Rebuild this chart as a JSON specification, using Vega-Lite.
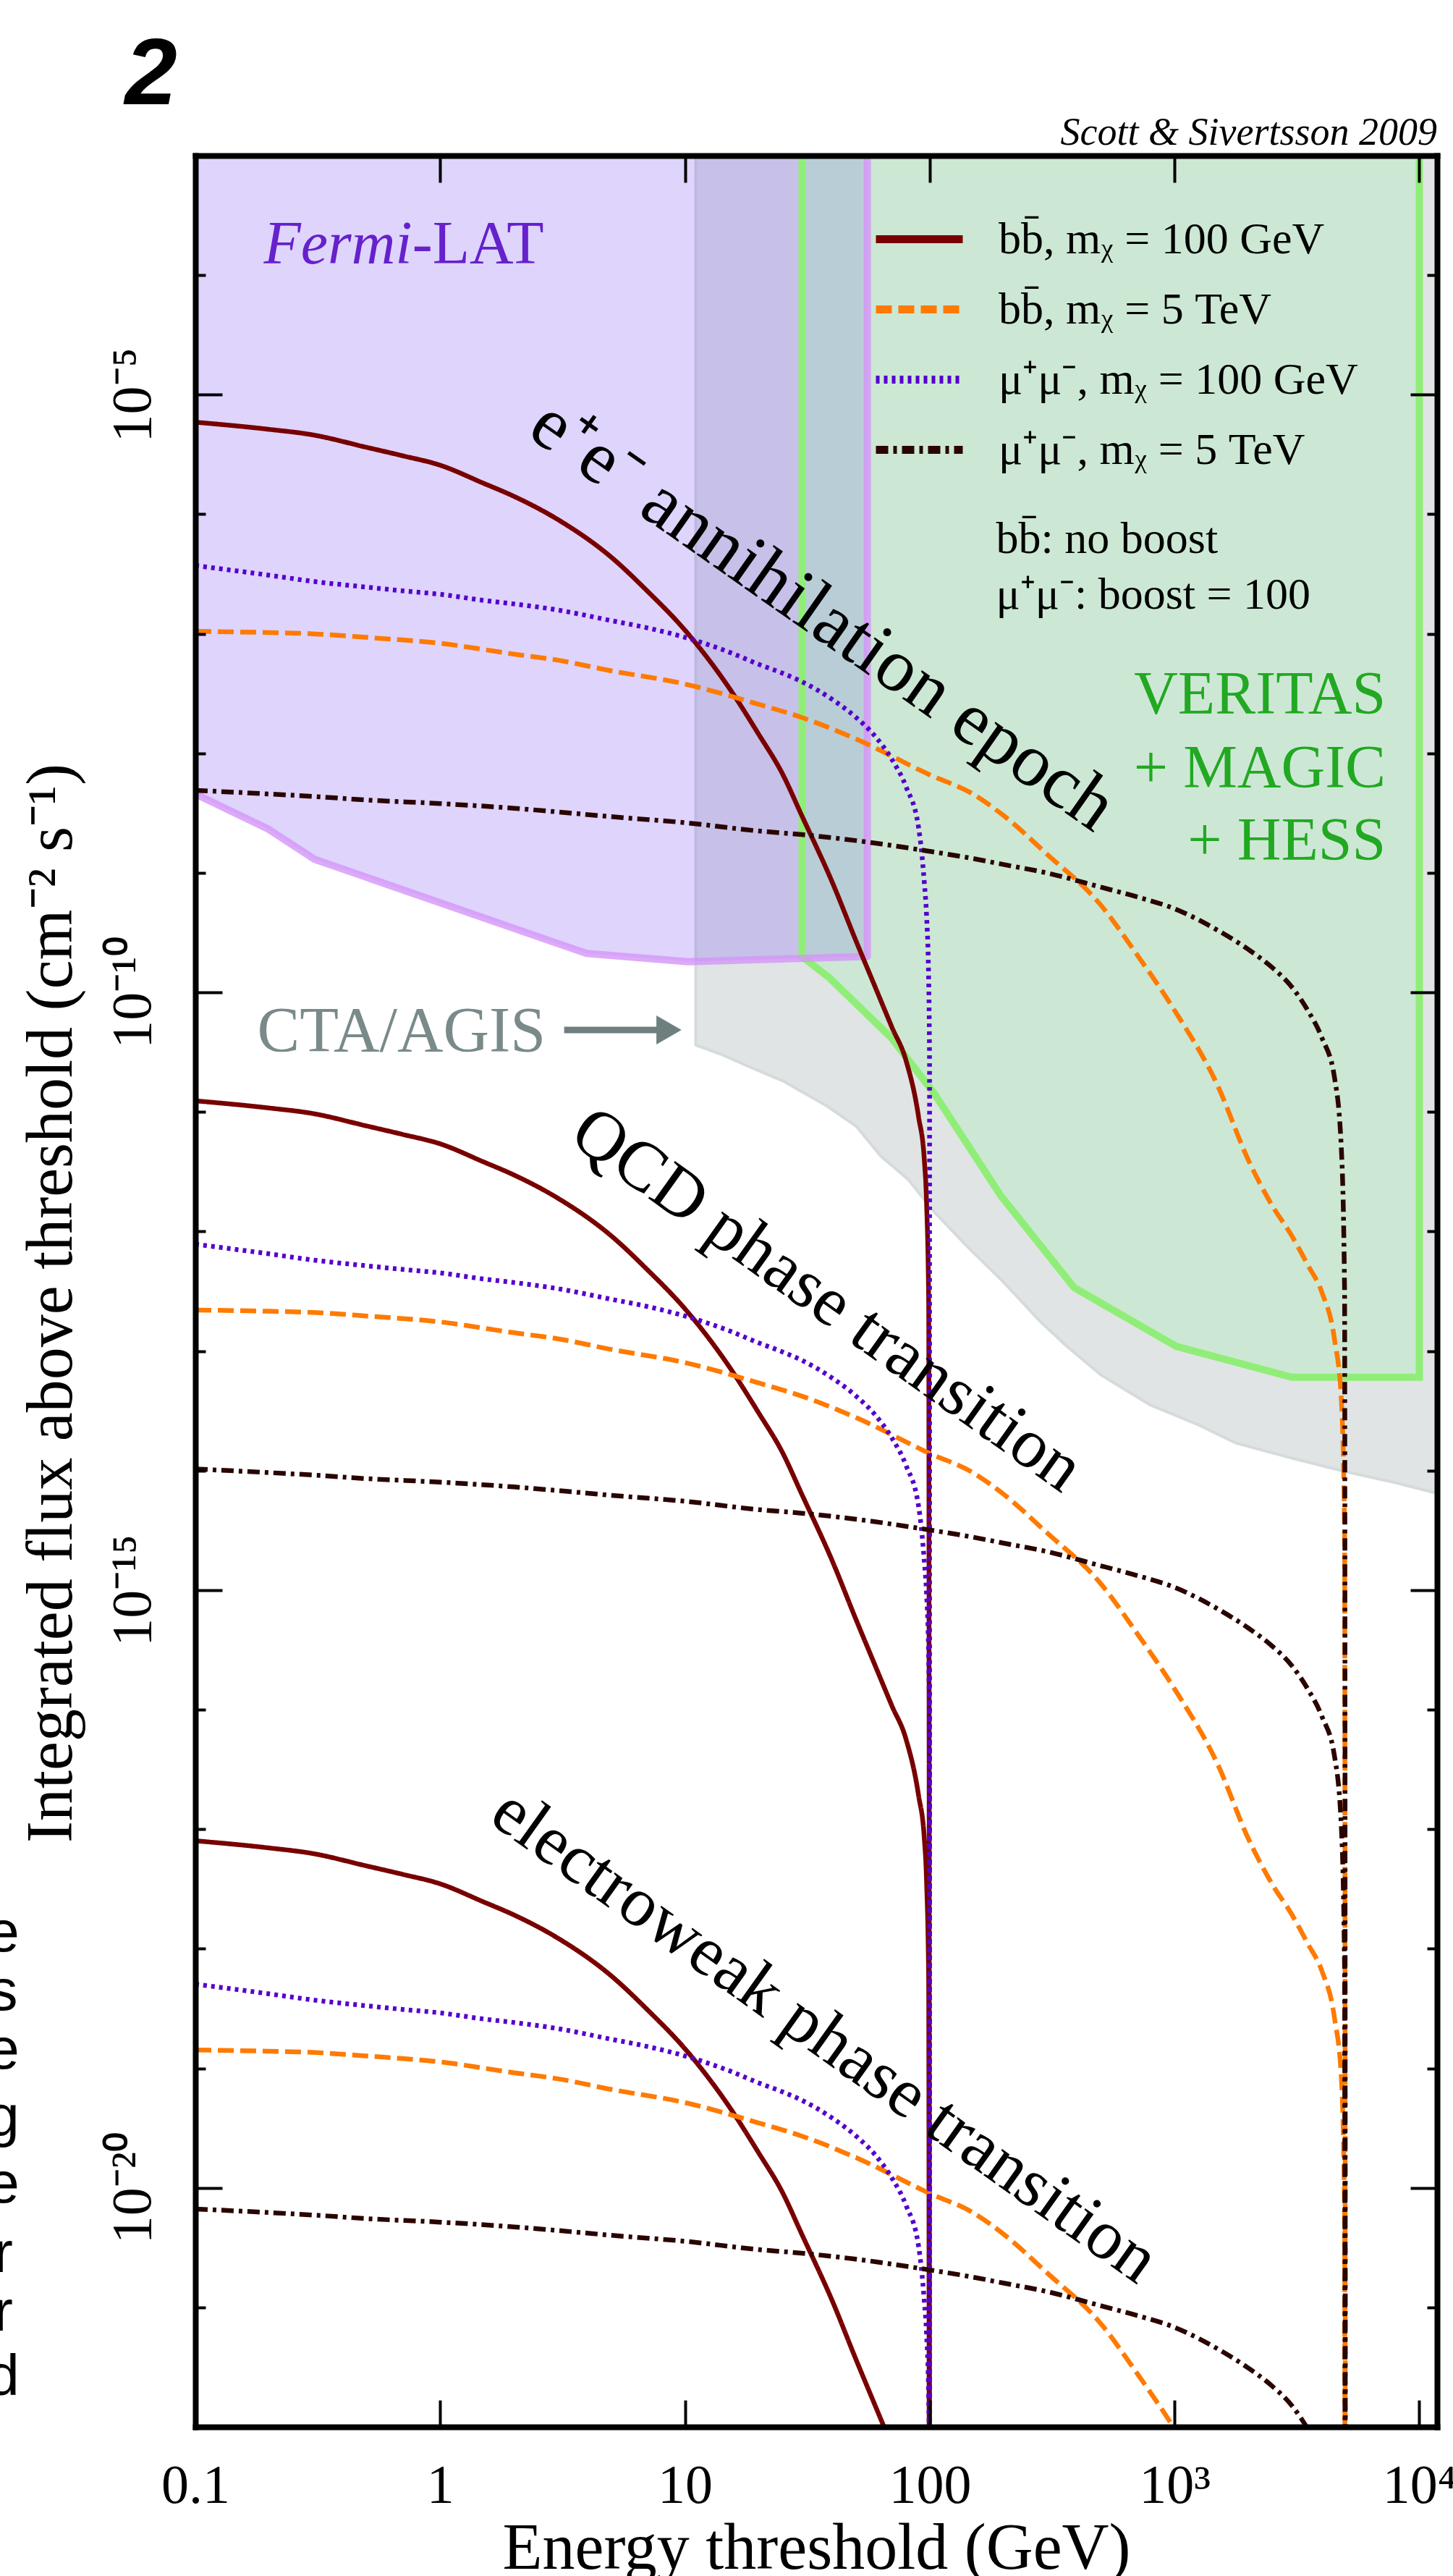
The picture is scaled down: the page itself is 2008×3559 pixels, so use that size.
{
  "$schema": "https://vega.github.io/schema/vega-lite/v6.json",
  "width": 1716,
  "height": 3138,
  "autosize": {"type": "none"},
  "padding": {"left": 270, "top": 215, "right": 22, "bottom": 206},
  "background": "white",
  "config": {
    "view": {"stroke": null},
    "font": "Liberation Serif",
    "axis": {"labelFont": "Liberation Serif", "titleFont": "Liberation Serif", "titleFontWeight": "normal", "labelColor": "black", "titleColor": "black", "grid": false}
  },
  "resolve": {"axis": {"x": "independent", "y": "independent"}},
  "datasets": {
    "curves": [
      {"s":"A","E":0.1,"g1":5.89e-6,"g2":1.239e-11,"g3":8.0e-18},
      {"s":"A","E":0.2,"g1":5.13e-6,"g2":1.079e-11,"g3":6.97e-18},
      {"s":"A","E":0.3,"g1":4.62e-6,"g2":9.72e-12,"g3":6.27e-18},
      {"s":"A","E":0.5,"g1":3.63e-6,"g2":7.64e-12,"g3":4.93e-18},
      {"s":"A","E":0.7,"g1":3.09e-6,"g2":6.5e-12,"g3":4.2e-18},
      {"s":"A","E":1,"g1":2.57e-6,"g2":5.41e-12,"g3":3.49e-18},
      {"s":"A","E":1.5,"g1":1.82e-6,"g2":3.83e-12,"g3":2.47e-18},
      {"s":"A","E":2,"g1":1.413e-6,"g2":2.973e-12,"g3":1.919e-18},
      {"s":"A","E":3,"g1":9.12e-7,"g2":1.919e-12,"g3":1.239e-18},
      {"s":"A","E":5,"g1":4.37e-7,"g2":9.19e-13,"g3":5.93e-19},
      {"s":"A","E":7,"g1":2.29e-7,"g2":4.818e-13,"g3":3.11e-19},
      {"s":"A","E":10,"g1":1.072e-7,"g2":2.255e-13,"g3":1.456e-19},
      {"s":"A","E":15,"g1":3.63e-8,"g2":7.64e-14,"g3":4.93e-20},
      {"s":"A","E":20,"g1":1.445e-8,"g2":3.04e-14,"g3":1.962e-20},
      {"s":"A","E":25,"g1":6.76e-9,"g2":1.422e-14,"g3":9.18e-21},
      {"s":"A","E":30,"g1":3.02e-9,"g2":6.354e-15,"g3":4.1e-21},
      {"s":"A","E":40,"g1":8.32e-10,"g2":1.751e-15,"g3":1.13e-21},
      {"s":"A","E":50,"g1":2.69e-10,"g2":5.66e-16,"g3":3.653e-22},
      {"s":"A","E":60,"g1":1.096e-10,"g2":2.306e-16,"g3":1.488e-22},
      {"s":"A","E":70,"g1":5.13e-11,"g2":1.079e-16,"g3":6.97e-23},
      {"s":"A","E":80,"g1":2.69e-11,"g2":5.66e-17,"g3":3.65e-23},
      {"s":"A","E":90,"g1":9.12e-12,"g2":1.919e-17,"g3":1.24e-23},
      {"s":"A","E":95,"g1":3.98e-12,"g2":8.374e-18,"g3":5.4e-24},
      {"s":"A","E":97,"g1":1.778e-12,"g2":3.741e-18,"g3":2.41e-24},
      {"s":"A","E":99,"g1":2.51e-13,"g2":5.281e-19,"g3":3.4e-25},
      {"s":"A","E":100,"g1":1e-30,"g2":1e-36,"g3":1e-42},
      {"s":"B","E":0.1,"g1":1.047e-7,"g2":2.203e-13,"g3":1.422e-19},
      {"s":"B","E":0.2,"g1":1.023e-7,"g2":2.152e-13,"g3":1.389e-19},
      {"s":"B","E":0.3,"g1":1.0e-7,"g2":2.104e-13,"g3":1.358e-19},
      {"s":"B","E":0.5,"g1":9.33e-8,"g2":1.963e-13,"g3":1.267e-19},
      {"s":"B","E":1,"g1":8.32e-8,"g2":1.751e-13,"g3":1.13e-19},
      {"s":"B","E":2,"g1":6.76e-8,"g2":1.422e-13,"g3":9.18e-20},
      {"s":"B","E":3,"g1":6.03e-8,"g2":1.269e-13,"g3":8.189e-20},
      {"s":"B","E":5,"g1":4.9e-8,"g2":1.031e-13,"g3":6.654e-20},
      {"s":"B","E":10,"g1":3.8e-8,"g2":7.995e-14,"g3":5.16e-20},
      {"s":"B","E":20,"g1":2.57e-8,"g2":5.407e-14,"g3":3.49e-20},
      {"s":"B","E":30,"g1":1.995e-8,"g2":4.197e-14,"g3":2.709e-20},
      {"s":"B","E":50,"g1":1.318e-8,"g2":2.773e-14,"g3":1.79e-20},
      {"s":"B","E":100,"g1":6.61e-9,"g2":1.391e-14,"g3":8.976e-21},
      {"s":"B","E":150,"g1":4.57e-9,"g2":9.615e-15,"g3":6.206e-21},
      {"s":"B","E":200,"g1":3.02e-9,"g2":6.354e-15,"g3":4.101e-21},
      {"s":"B","E":300,"g1":1.445e-9,"g2":3.04e-15,"g3":1.962e-21},
      {"s":"B","E":500,"g1":5.37e-10,"g2":1.13e-15,"g3":7.292e-22},
      {"s":"B","E":700,"g1":2.09e-10,"g2":4.397e-16,"g3":2.838e-22},
      {"s":"B","E":1000,"g1":7.08e-11,"g2":1.49e-16,"g3":9.615e-23},
      {"s":"B","E":1500,"g1":1.66e-11,"g2":3.493e-17,"g3":2.254e-23},
      {"s":"B","E":2000,"g1":3.98e-12,"g2":8.374e-18,"g3":5.4e-24},
      {"s":"B","E":2500,"g1":1.66e-12,"g2":3.493e-18,"g3":2.25e-24},
      {"s":"B","E":3000,"g1":9.33e-13,"g2":1.963e-18,"g3":1.27e-24},
      {"s":"B","E":3500,"g1":5.25e-13,"g2":1.105e-18,"g3":7.1e-25},
      {"s":"B","E":4000,"g1":3.09e-13,"g2":6.501e-19,"g3":4.2e-25},
      {"s":"B","E":4500,"g1":1.259e-13,"g2":2.649e-19,"g3":1.7e-25},
      {"s":"B","E":4800,"g1":3.98e-14,"g2":8.374e-20,"g3":5.4e-26},
      {"s":"B","E":4950,"g1":3.16e-15,"g2":6.649e-21,"g3":4.3e-27},
      {"s":"B","E":5000,"g1":1e-30,"g2":1e-36,"g3":1e-42},
      {"s":"C","E":0.1,"g1":3.72e-7,"g2":7.827e-13,"g3":5.052e-19},
      {"s":"C","E":0.2,"g1":3.09e-7,"g2":6.501e-13,"g3":4.196e-19},
      {"s":"C","E":0.3,"g1":2.75e-7,"g2":5.786e-13,"g3":3.735e-19},
      {"s":"C","E":0.5,"g1":2.455e-7,"g2":5.165e-13,"g3":3.334e-19},
      {"s":"C","E":0.7,"g1":2.29e-7,"g2":4.818e-13,"g3":3.11e-19},
      {"s":"C","E":1,"g1":2.14e-7,"g2":4.503e-13,"g3":2.906e-19},
      {"s":"C","E":1.5,"g1":1.905e-7,"g2":4.008e-13,"g3":2.587e-19},
      {"s":"C","E":2,"g1":1.778e-7,"g2":3.741e-13,"g3":2.415e-19},
      {"s":"C","E":3,"g1":1.585e-7,"g2":3.335e-13,"g3":2.152e-19},
      {"s":"C","E":5,"g1":1.288e-7,"g2":2.71e-13,"g3":1.749e-19},
      {"s":"C","E":7,"g1":1.122e-7,"g2":2.361e-13,"g3":1.524e-19},
      {"s":"C","E":10,"g1":9.33e-8,"g2":1.963e-13,"g3":1.267e-19},
      {"s":"C","E":15,"g1":7.08e-8,"g2":1.49e-13,"g3":9.615e-20},
      {"s":"C","E":20,"g1":5.56e-8,"g2":1.17e-13,"g3":7.55e-20},
      {"s":"C","E":25,"g1":4.68e-8,"g2":9.847e-14,"g3":6.355e-20},
      {"s":"C","E":30,"g1":3.98e-8,"g2":8.374e-14,"g3":5.405e-20},
      {"s":"C","E":40,"g1":2.82e-8,"g2":5.933e-14,"g3":3.83e-20},
      {"s":"C","E":50,"g1":1.995e-8,"g2":4.197e-14,"g3":2.709e-20},
      {"s":"C","E":60,"g1":1.38e-8,"g2":2.904e-14,"g3":1.874e-20},
      {"s":"C","E":70,"g1":8.91e-9,"g2":1.875e-14,"g3":1.21e-20},
      {"s":"C","E":80,"g1":5.25e-9,"g2":1.105e-14,"g3":7.13e-21},
      {"s":"C","E":90,"g1":2.4e-9,"g2":5.05e-15,"g3":3.259e-21},
      {"s":"C","E":95,"g1":8.32e-10,"g2":1.751e-15,"g3":1.13e-21},
      {"s":"C","E":97,"g1":4.47e-10,"g2":9.405e-16,"g3":6.07e-22},
      {"s":"C","E":99,"g1":1.259e-10,"g2":2.649e-16,"g3":1.71e-22},
      {"s":"C","E":99.8,"g1":2.51e-11,"g2":5.281e-17,"g3":3.409e-23},
      {"s":"C","E":100,"g1":1e-30,"g2":1e-36,"g3":1e-42},
      {"s":"D","E":0.1,"g1":4.9e-9,"g2":1.031e-14,"g3":6.654e-21},
      {"s":"D","E":0.2,"g1":4.57e-9,"g2":9.615e-15,"g3":6.206e-21},
      {"s":"D","E":0.3,"g1":4.365e-9,"g2":9.184e-15,"g3":5.928e-21},
      {"s":"D","E":0.5,"g1":4.07e-9,"g2":8.563e-15,"g3":5.527e-21},
      {"s":"D","E":1,"g1":3.8e-9,"g2":7.995e-15,"g3":5.16e-21},
      {"s":"D","E":2,"g1":3.47e-9,"g2":7.301e-15,"g3":4.712e-21},
      {"s":"D","E":3,"g1":3.24e-9,"g2":6.817e-15,"g3":4.4e-21},
      {"s":"D","E":5,"g1":2.95e-9,"g2":6.207e-15,"g3":4.006e-21},
      {"s":"D","E":10,"g1":2.63e-9,"g2":5.534e-15,"g3":3.572e-21},
      {"s":"D","E":20,"g1":2.24e-9,"g2":4.713e-15,"g3":3.042e-21},
      {"s":"D","E":30,"g1":2.09e-9,"g2":4.397e-15,"g3":2.838e-21},
      {"s":"D","E":50,"g1":1.862e-9,"g2":3.918e-15,"g3":2.529e-21},
      {"s":"D","E":100,"g1":1.514e-9,"g2":3.185e-15,"g3":2.056e-21},
      {"s":"D","E":150,"g1":1.318e-9,"g2":2.773e-15,"g3":1.79e-21},
      {"s":"D","E":200,"g1":1.175e-9,"g2":2.472e-15,"g3":1.596e-21},
      {"s":"D","E":300,"g1":1.0e-9,"g2":2.104e-15,"g3":1.358e-21},
      {"s":"D","E":500,"g1":7.59e-10,"g2":1.597e-15,"g3":1.031e-21},
      {"s":"D","E":700,"g1":6.31e-10,"g2":1.328e-15,"g3":8.569e-22},
      {"s":"D","E":1000,"g1":5.01e-10,"g2":1.054e-15,"g3":6.804e-22},
      {"s":"D","E":1500,"g1":3.31e-10,"g2":6.964e-16,"g3":4.495e-22},
      {"s":"D","E":2000,"g1":2.29e-10,"g2":4.818e-16,"g3":3.11e-22},
      {"s":"D","E":2500,"g1":1.622e-10,"g2":3.413e-16,"g3":2.203e-22},
      {"s":"D","E":3000,"g1":1.122e-10,"g2":2.361e-16,"g3":1.524e-22},
      {"s":"D","E":3500,"g1":7.08e-11,"g2":1.49e-16,"g3":9.615e-23},
      {"s":"D","E":4000,"g1":4.17e-11,"g2":8.774e-17,"g3":5.663e-23},
      {"s":"D","E":4500,"g1":1.95e-11,"g2":4.103e-17,"g3":2.648e-23},
      {"s":"D","E":4800,"g1":5.01e-12,"g2":1.054e-17,"g3":6.804e-24},
      {"s":"D","E":4950,"g1":3.16e-13,"g2":6.649e-19,"g3":4.29e-25},
      {"s":"D","E":5000,"g1":1e-30,"g2":1e-36,"g3":1e-42}
    ]
  },
  "encoding": {
    "x": {"field": "E", "type": "quantitative", "scale": {"type": "log", "domain": [0.1, 11816], "nice": false}, "axis": null},
    "y": {"field": "F", "type": "quantitative", "scale": {"type": "log", "domain": [1e-22, 0.001], "nice": false}, "axis": null}
  },
  "layer": [
    {
      "data": {"values": [
        {"E":11.07,"F":3.63e-11},{"E":14.13,"F":3.02e-11},{"E":17.78,"F":2.455e-11},{"E":25.1,"F":1.82e-11},
        {"E":38.0,"F":1.122e-11},{"E":50.1,"F":7.59e-12},{"E":63.1,"F":4.27e-12},{"E":81.3,"F":2.75e-12},
        {"E":104.7,"F":1.445e-12},{"E":141.3,"F":7.59e-13},{"E":199.5,"F":3.8e-13},{"E":281.8,"F":1.778e-13},
        {"E":363,"F":1.096e-13},{"E":501,"F":6.31e-14},{"E":794,"F":3.55e-14},{"E":1259,"F":2.4e-14},
        {"E":1778,"F":1.7e-14},{"E":2818,"F":1.318e-14},{"E":5012,"F":9.77e-15},{"E":7943,"F":7.94e-15},{"E":11816,"F":6.46e-15}
      ]},
      "mark": {"type": "area", "color": "#e0e4e4", "stroke": "#d5dbdb", "strokeWidth": 4, "clip": true},
      "encoding": {
        "x": {"field": "E", "type": "quantitative", "scale": {"type": "log", "domain": [0.1, 11816], "nice": false},
              "axis": {"orient": "top", "values": [0.1, 1, 10, 100, 1000, 10000], "labels": false, "tickSize": -37, "tickWidth": 4, "tickColor": "black", "domain": true, "domainWidth": 8, "domainColor": "black", "domainCap": "square", "title": null, "zindex": 1}},
        "y": {"field": "F", "type": "quantitative", "scale": {"type": "log", "domain": [1e-22, 0.001], "nice": false},
              "axis": {"orient": "right", "values": [1e-4,1e-5,1e-6,1e-7,1e-8,1e-9,1e-10,1e-11,1e-12,1e-13,1e-14,1e-15,1e-16,1e-17,1e-18,1e-19,1e-20,1e-21], "labels": false,
                       "tickSize": {"condition": {"test": "abs(round(log(datum.value)/LN10)) % 5 == 0", "value": -37}, "value": -14},
                       "tickWidth": 4, "tickColor": "black", "domain": true, "domainWidth": 8, "domainColor": "black", "domainCap": "square", "title": null, "zindex": 1}},
        "y2": {"datum": 0.001}
      }
    },
    {
      "data": {"values": [
        {"E":0.1,"F":4.57e-9},{"E":0.198,"F":2.33e-9},{"E":0.307,"F":1.297e-9},{"E":3.96,"F":2.118e-10},{"E":10.3,"F":1.807e-10},{"E":55.6,"F":1.995e-10}
      ]},
      "mark": {"type": "area", "color": "#7b53f3", "opacity": 0.25, "clip": true},
      "encoding": {"y2": {"datum": 0.001}}
    },
    {
      "data": {"values": [
        {"E":30.1,"F":1.995e-10},{"E":39.0,"F":1.318e-10},{"E":69.7,"F":4.17e-11},{"E":104.7,"F":1.413e-11},{"E":195,"F":1.995e-12},
        {"E":389,"F":3.39e-13},{"E":1016,"F":1.096e-13},{"E":3020,"F":6.03e-14},{"E":10000,"F":6.03e-14}
      ]},
      "mark": {"type": "area", "color": "#90f4a4", "opacity": 0.25, "clip": true},
      "encoding": {"y2": {"datum": 0.001}}
    },
    {
      "data": {"values": [
        {"k":0,"E":30.1,"F":0.001},{"k":1,"E":30.1,"F":1.995e-10},{"k":2,"E":39.0,"F":1.318e-10},{"k":3,"E":69.7,"F":4.17e-11},{"k":4,"E":104.7,"F":1.413e-11},
        {"k":5,"E":195,"F":1.995e-12},{"k":6,"E":389,"F":3.39e-13},{"k":7,"E":1016,"F":1.096e-13},{"k":8,"E":3020,"F":6.03e-14},{"k":9,"E":10000,"F":6.03e-14},{"k":10,"E":10000,"F":0.001}
      ]},
      "mark": {"type": "line", "color": "#90ee78", "strokeWidth": 10, "strokeJoin": "miter", "clip": true},
      "encoding": {"order": {"field": "k", "type": "quantitative"}}
    },
    {
      "data": {"values": [
        {"k":0,"E":0.1,"F":4.57e-9},{"k":1,"E":0.198,"F":2.33e-9},{"k":2,"E":0.307,"F":1.297e-9},{"k":3,"E":3.96,"F":2.118e-10},
        {"k":4,"E":10.3,"F":1.807e-10},{"k":5,"E":55.6,"F":1.995e-10},{"k":6,"E":55.6,"F":0.001}
      ]},
      "mark": {"type": "line", "color": "#d595f7", "opacity": 0.8, "strokeWidth": 10, "strokeJoin": "round", "clip": true},
      "encoding": {"order": {"field": "k", "type": "quantitative"}}
    },
    {
      "data": {"name": "curves"},
      "transform": [{"fold": ["g1", "g2", "g3"], "as": ["grp", "F"]}],
      "mark": {"type": "line", "strokeWidth": 6.5, "interpolate": "monotone", "clip": true},
      "encoding": {
        "x": {"field": "E", "type": "quantitative", "scale": {"type": "log", "domain": [0.1, 11816], "nice": false},
              "axis": {"orient": "bottom", "values": [0.1, 1, 10, 100, 1000, 10000],
                       "labelExpr": "datum.value >= 10000 ? '10⁴' : datum.value >= 1000 ? '10³' : datum.value < 1 ? '0.1' : format(datum.value, 'd')",
                       "tickSize": -37, "tickWidth": 4, "tickColor": "black",
                       "labelPadding": 141, "labelBaseline": "alphabetic", "labelFontSize": 76, "labelFlush": false, "labelOverlap": false, "labelBound": false, "labelLimit": 0,
                       "domain": true, "domainWidth": 8, "domainColor": "black", "domainCap": "square",
                       "title": "Energy threshold (GeV)", "titleFontSize": 90, "titleX": 858, "titleY": 195, "titleBaseline": "alphabetic", "titleAlign": "center", "zindex": 1}},
        "y": {"field": "F", "type": "quantitative", "scale": {"type": "log", "domain": [1e-22, 0.001], "nice": false},
              "axis": {"orient": "left", "values": [1e-4,1e-5,1e-6,1e-7,1e-8,1e-9,1e-10,1e-11,1e-12,1e-13,1e-14,1e-15,1e-16,1e-17,1e-18,1e-19,1e-20,1e-21],
                       "labelExpr": "datum.value == 1e-5 ? '10⁻⁵' : datum.value == 1e-10 ? '10⁻¹⁰' : datum.value == 1e-15 ? '10⁻¹⁵' : datum.value == 1e-20 ? '10⁻²⁰' : ''",
                       "tickSize": {"condition": {"test": "abs(round(log(datum.value)/LN10)) % 5 == 0", "value": -37}, "value": -14},
                       "tickWidth": 4, "tickColor": "black",
                       "labelPadding": 100, "labelAngle": 270, "labelAlign": "center", "labelBaseline": "alphabetic", "labelFontSize": 78, "labelFlush": false, "labelOverlap": false, "labelBound": false, "labelLimit": 0,
                       "domain": true, "domainWidth": 8, "domainColor": "black", "domainCap": "square",
                       "title": "Integrated flux above threshold (cm⁻² s⁻¹)", "titleFontSize": 90, "titleAngle": 270, "titleX": -172, "titleY": 1585, "titleBaseline": "alphabetic", "titleAlign": "center", "zindex": 1}},
        "color": {"field": "s", "type": "nominal",
                  "scale": {"domain": ["A", "B", "C", "D"], "range": ["#780000", "#ff7a00", "#5500cc", "#2a0500"]},
                  "legend": {"title": null, "orient": "none", "legendX": 935, "legendY": 50, "symbolType": "stroke", "symbolSize": 14400, "symbolStrokeWidth": 11, "labelFont": "Liberation Serif", "labelFontSize": 62, "labelColor": "black", "labelOffset": 44, "rowPadding": -37, "padding": 0, "labelLimit": 1000,
                             "labelExpr": "datum.label == 'A' ? 'bb̄, mᵪ = 100 GeV' : datum.label == 'B' ? 'bb̄, mᵪ = 5 TeV' : datum.label == 'C' ? 'μ⁺μ⁻, mᵪ = 100 GeV' : 'μ⁺μ⁻, mᵪ = 5 TeV'"}},
        "strokeDash": {"field": "s", "type": "nominal",
                  "scale": {"domain": ["A", "B", "C", "D"], "range": [[1, 0], [22, 9], [5, 6], [17, 7, 5, 7]]},
                  "legend": {"title": null, "orient": "none", "legendX": 935, "legendY": 50, "symbolType": "stroke", "symbolSize": 14400, "symbolStrokeWidth": 11, "labelFont": "Liberation Serif", "labelFontSize": 62, "labelColor": "black", "labelOffset": 44, "rowPadding": -37, "padding": 0, "labelLimit": 1000,
                             "labelExpr": "datum.label == 'A' ? 'bb̄, mᵪ = 100 GeV' : datum.label == 'B' ? 'bb̄, mᵪ = 5 TeV' : datum.label == 'C' ? 'μ⁺μ⁻, mᵪ = 100 GeV' : 'μ⁺μ⁻, mᵪ = 5 TeV'"}},
        "detail": {"field": "grp"}
      }
    },
    {
      "data": {"values": [{"E":36.5,"F":1.42e-7,"t":"e⁺e⁻ annihilation epoch"}]},
      "mark": {"type": "text", "angle": 35, "align": "center", "baseline": "middle", "font": "Liberation Serif", "fontSize": 104, "color": "black"},
      "encoding": {"text": {"field": "t"}}
    },
    {
      "data": {"values": [
        {"E":38.0,"F":2.67e-13,"t":"QCD phase transition"},
        {"E":37.2,"F":1.86e-19,"t":"electroweak phase transition"}
      ]},
      "mark": {"type": "text", "angle": 35.5, "align": "center", "baseline": "middle", "font": "Liberation Serif", "fontSize": 97, "color": "black"},
      "encoding": {"text": {"field": "t"}}
    },
    {
      "data": {"values": [{"E":0.769,"F":1.245e-4,"t":"Fermi"}]},
      "mark": {"type": "text", "align": "right", "baseline": "alphabetic", "font": "Liberation Serif", "fontStyle": "italic", "fontSize": 84, "color": "#6620cc"},
      "encoding": {"text": {"field": "t"}}
    },
    {
      "data": {"values": [{"E":0.769,"F":1.245e-4,"t":"-LAT"}]},
      "mark": {"type": "text", "align": "left", "baseline": "alphabetic", "font": "Liberation Serif", "fontSize": 84, "color": "#6620cc"},
      "encoding": {"text": {"field": "t"}}
    },
    {
      "data": {"values": [{"E":0.179,"F":3.24e-11,"t":"CTA/AGIS"}]},
      "mark": {"type": "text", "align": "left", "baseline": "alphabetic", "font": "Liberation Serif", "fontSize": 88, "color": "#7a8a8a"},
      "encoding": {"text": {"field": "t"}}
    },
    {
      "data": {"values": [{"E":3.21,"E2":8.3,"F":4.85e-11}]},
      "mark": {"type": "rule", "color": "#6f7f7f", "strokeWidth": 9},
      "encoding": {"x2": {"field": "E2"}}
    },
    {
      "data": {"values": [{"E":8.6,"F":4.85e-11}]},
      "mark": {"type": "point", "shape": "triangle-right", "filled": true, "size": 1600, "color": "#6f7f7f", "opacity": 1},
      "encoding": {}
    },
    {
      "data": {"values": [
        {"E":7295,"F":2.15e-8,"t":"VERITAS"},
        {"E":7295,"F":5.18e-9,"t":"+ MAGIC"},
        {"E":7295,"F":1.29e-9,"t":"+ HESS"}
      ]},
      "mark": {"type": "text", "align": "right", "baseline": "alphabetic", "font": "Liberation Serif", "fontSize": 84, "color": "#22a822"},
      "encoding": {"text": {"field": "t"}}
    },
    {
      "data": {"values": [
        {"E":186.6,"F":4.77e-7,"t":"bb̄: no boost"},
        {"E":186.6,"F":1.63e-7,"t":"μ⁺μ⁻: boost = 100"}
      ]},
      "mark": {"type": "text", "align": "left", "baseline": "alphabetic", "font": "Liberation Serif", "fontSize": 62, "color": "black"},
      "encoding": {"text": {"field": "t"}}
    },
    {
      "data": {"values": [{"E":11816,"F":1.233e-3,"t":"Scott & Sivertsson 2009"}]},
      "mark": {"type": "text", "align": "right", "baseline": "alphabetic", "font": "Liberation Serif", "fontStyle": "italic", "fontSize": 54, "color": "black", "clip": false},
      "encoding": {"text": {"field": "t"}}
    },
    {
      "data": {"values": [{"E":0.0515,"F":2.69e-3,"t":"2"}]},
      "mark": {"type": "text", "align": "left", "baseline": "alphabetic", "font": "Liberation Sans", "fontStyle": "italic", "fontWeight": "bold", "fontSize": 130, "color": "black", "clip": false},
      "encoding": {"text": {"field": "t"}}
    },
    {
      "data": {"values": [
        {"E":0.01642,"F":9.5e-19,"t":"e"},
        {"E":0.01642,"F":3.08e-19,"t":"s"},
        {"E":0.01642,"F":9.93e-20,"t":"e"},
        {"E":0.01642,"F":2.75e-20,"t":"g"},
        {"E":0.01642,"F":7.53e-21,"t":"e"},
        {"E":0.01642,"F":1.98e-21,"t":"r"},
        {"E":0.01642,"F":6.4e-22,"t":"r"},
        {"E":0.01642,"F":1.85e-22,"t":"d"}
      ]},
      "mark": {"type": "text", "align": "center", "baseline": "alphabetic", "font": "Liberation Sans", "fontSize": 80, "color": "black", "clip": false},
      "encoding": {"text": {"field": "t"}}
    }
  ]
}
